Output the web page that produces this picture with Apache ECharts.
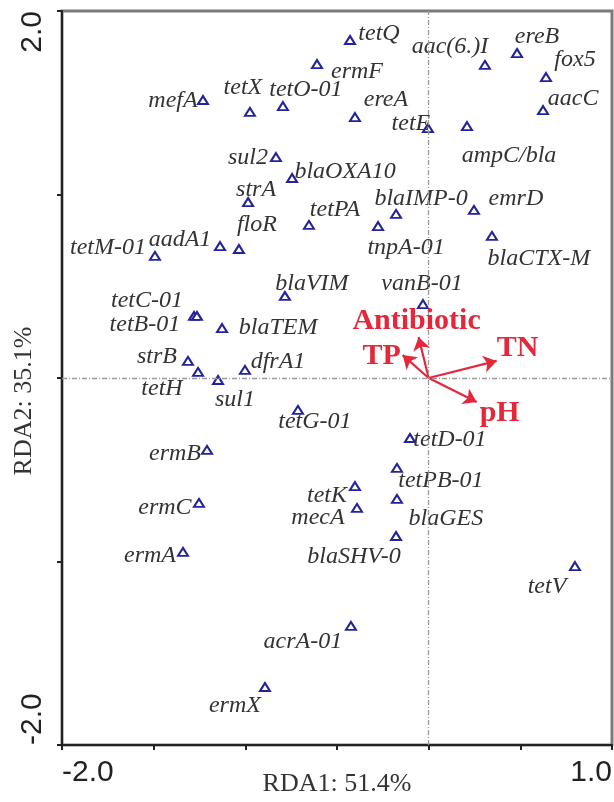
<!DOCTYPE html>
<html><head><meta charset="utf-8">
<script src="https://cdn.jsdelivr.net/npm/echarts@6/dist/echarts.min.js"></script>
<style>html,body{margin:0;padding:0;background:#fff}#c{width:614px;height:802px}</style>
</head><body><div id="c"></div>
<script>
// ---- data ----
const genes = ['tetQ','ermF','tetO-01','tetX','mefA','ereA','tetE','ampC/bla','aac(6.)I','ereB','fox5','aacC',
  'sul2','blaOXA10','strA','tetPA','blaIMP-0','tnpA-01','emrD','blaCTX-M','floR','aadA1','tetM-01','blaVIM',
  'tetC-01','tetB-01','blaTEM','strB','tetH','sul1','dfrA1','vanB-01','tetG-01','tetD-01','tetPB-01','tetK',
  'mecA','blaGES','blaSHV-0','tetV','acrA-01','ermX','ermB','ermC','ermA'];
const rda1 = [-0.429,-0.609,-0.795,-0.975,-1.231,-0.402,-0.004,0.209,0.307,0.482,0.640,0.624,
  -0.833,-0.745,-0.985,-0.653,-0.178,-0.276,0.247,0.345,-1.035,-1.138,-1.493,-0.784,
  -1.280,-1.264,-1.127,-1.313,-1.258,-1.149,-1.002,-0.031,-0.713,-0.102,-0.173,-0.402,
  -0.391,-0.173,-0.178,0.798,-0.424,-0.893,-1.209,-1.253,-1.340];
const rda2 = [1.842,1.711,1.482,1.450,1.515,1.422,1.362,1.373,1.706,1.771,1.640,1.460,
  1.204,1.090,0.959,0.834,0.894,0.828,0.916,0.774,0.703,0.719,0.665,0.447,
  0.338,0.338,0.272,0.093,0.033,-0.011,0.044,0.403,-0.174,-0.327,-0.490,-0.589,
  -0.708,-0.659,-0.861,-1.025,-1.351,-1.684,-0.392,-0.681,-0.948];
const envVars = ['Antibiotic','TP','TN','pH'];
const envRda1 = [-0.055,-0.142,0.371,0.262];
const envRda2 = [0.223,0.125,0.093,-0.131];
const xTickLabels = ['-2.0','1.0'];
const yTickLabels = ['-2.0','2.0'];
const xAxisTitle = 'RDA1: 51.4%';
const yAxisTitle = 'RDA2: 35.1%';

// ---- label placement (style only, pixel offsets from each marker) ----
const geneLabelOffset = {
  'tetQ':[29,-6],'ermF':[40,8],'tetO-01':[23,-16],'tetX':[-7,-24],'mefA':[-30,1],'ereA':[31,-17],
  'tetE':[-17,-4],'ampC/bla':[42,30],'aac(6.)I':[-35,-18],'ereB':[20,-16],'fox5':[29,-17],'aacC':[30,-11],
  'sul2':[-28,1],'blaOXA10':[53,-6],'strA':[8,-12],'tetPA':[26,-15],'blaIMP-0':[25,-15],'tnpA-01':[28,22],
  'emrD':[42,-11],'blaCTX-M':[47,23],'floR':[18,-24],'aadA1':[-40,-6],'tetM-01':[-47,-8],'blaVIM':[27,-12],
  'tetC-01':[-47,-15],'tetB-01':[-52,9],'blaTEM':[56,0],'strB':[-31,-4],'tetH':[-36,17],'sul1':[17,20],
  'dfrA1':[33,-8],'vanB-01':[-1,-20],'tetG-01':[17,12],'tetD-01':[40,2],'tetPB-01':[44,13],'tetK':[-28,10],
  'mecA':[-39,10],'blaGES':[49,20],'blaSHV-0':[-42,21],'tetV':[-28,21],'acrA-01':[-48,16],'ermX':[-30,19],
  'ermB':[-32,4],'ermC':[-34,5],'ermA':[-33,4]
};
const envLabelOffset = {'Antibiotic':[-2,-16],'TP':[-21,1],'TN':[21,-13],'pH':[23,11]};

const chart = echarts.init(document.getElementById('c'), null, {renderer:'canvas'});
const tickFont = {fontFamily:'Liberation Sans', fontSize:30, color:'#222'};
const serif = 'Liberation Serif';
const axisLineStyle = {color:'#222', width:2};

const baseX = {type:'value', min:-2, max:1, interval:0.5, position:'bottom', splitLine:{show:false}};
const baseY = {type:'value', min:-2, max:2, interval:1, position:'left', splitLine:{show:false}};

const option = {
  animation:false,
  backgroundColor:'#fff',
  grid:{left:62, right:2, top:11, bottom:57, show:true, borderColor:'#7a7a7a', borderWidth:3,
    containLabel:false, outerBoundsMode:'none'},
  xAxis:[
    Object.assign({}, baseX, {
      axisLine:{show:true, onZero:false, lineStyle:axisLineStyle},
      axisTick:{show:true, length:5, lineStyle:axisLineStyle},
      axisLabel:Object.assign({}, tickFont, {margin:13, align:'left',
        formatter:v => v === -2 ? xTickLabels[0] : ''}),
      name:xAxisTitle, nameLocation:'middle', nameGap:26, nameMoveOverlap:false,
      nameTextStyle:{fontFamily:serif, fontSize:26, color:'#333'}
    }),
    Object.assign({}, baseX, {
      axisLine:{show:false}, axisTick:{show:false},
      axisLabel:Object.assign({}, tickFont, {margin:13, align:'right',
        formatter:v => v === 1 ? xTickLabels[1] : ''})
    })
  ],
  yAxis:[
    Object.assign({}, baseY, {
      axisLine:{show:true, onZero:false, lineStyle:axisLineStyle},
      axisTick:{show:true, length:5, lineStyle:axisLineStyle},
      axisLabel:Object.assign({}, tickFont, {margin:14, rotate:90, align:'left',
        formatter:v => v === -2 ? yTickLabels[0] : ''}),
      name:yAxisTitle, nameLocation:'middle', nameGap:25, nameMoveOverlap:false,
      nameTextStyle:{fontFamily:serif, fontSize:26, color:'#333', padding:[0,46,0,0]}
    }),
    Object.assign({}, baseY, {
      axisLine:{show:false}, axisTick:{show:false},
      axisLabel:Object.assign({}, tickFont, {margin:14, rotate:90, align:'right',
        formatter:v => v === 2 ? yTickLabels[1] : ''})
    })
  ],
  series:[
    {
      type:'scatter', xAxisIndex:0, yAxisIndex:0, z:3,
      symbol:'triangle', symbolSize:[10,8],
      itemStyle:{color:'#fff', borderColor:'#24249a', borderWidth:2, opacity:1},
      label:{show:true, position:'inside', formatter:'{b}', fontFamily:serif, fontStyle:'italic',
        fontSize:24, color:'#333', opacity:1},
      data:genes.map((g,i)=>({name:g, value:[rda1[i], rda2[i]], label:{offset:geneLabelOffset[g]}})),
      markLine:{silent:true, symbol:'none', label:{show:false}, animation:false,
        lineStyle:{color:'#9a9a9a', type:[5,2,1,2], width:1.3},
        data:[{xAxis:0},{yAxis:0}]}
    },
    {
      type:'lines', coordinateSystem:'cartesian2d', xAxisIndex:0, yAxisIndex:0, z:4,
      symbol:['none','arrow'], symbolSize:13,
      lineStyle:{color:'#e4283a', width:2.2, opacity:1, curveness:0},
      data:envVars.map((v,i)=>({name:v, coords:[[0,0],[envRda1[i], envRda2[i]]]}))
    },
    {
      type:'scatter', xAxisIndex:0, yAxisIndex:0, z:5, symbolSize:0, silent:true,
      itemStyle:{color:'#e4283a', opacity:1},
      label:{show:true, position:'inside', formatter:'{b}', fontFamily:serif, fontWeight:'bold',
        fontSize:30, color:'#e4283a', opacity:1},
      data:envVars.map((v,i)=>({name:v, value:[envRda1[i], envRda2[i]], label:{offset:envLabelOffset[v]}}))
    }
  ]
};
chart.setOption(option);
</script></body></html>
